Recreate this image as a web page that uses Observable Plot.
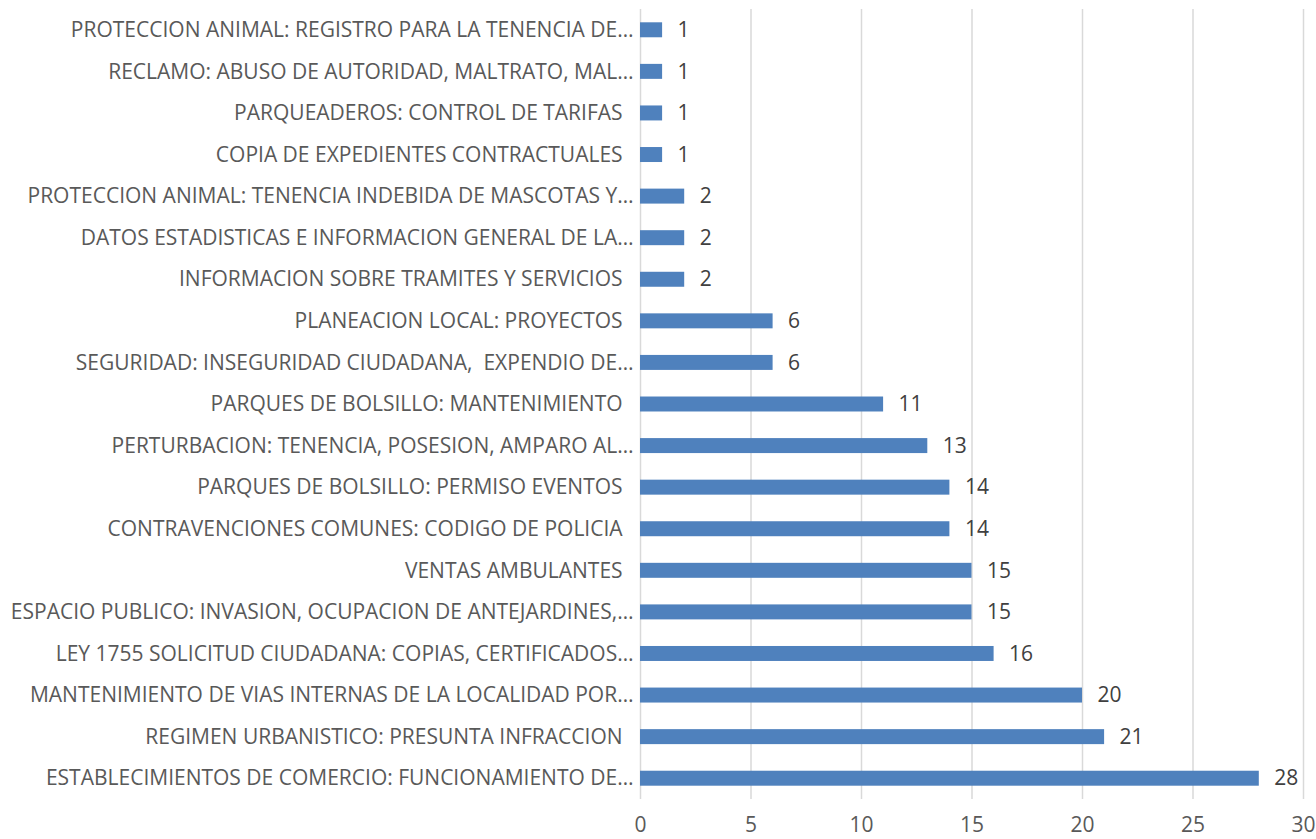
<!DOCTYPE html>
<html><head><meta charset="utf-8">
<script src="https://cdn.jsdelivr.net/npm/d3@7"></script>
<script src="https://cdn.jsdelivr.net/npm/@observablehq/plot@0.6"></script>
<style>
body{margin:0;background:#fff;}
svg text{white-space:pre;}
</style></head>
<body><div id="chart"></div>
<script>
const categories = [
  "PROTECCION ANIMAL: REGISTRO PARA LA TENENCIA DE…",
  "RECLAMO: ABUSO DE AUTORIDAD, MALTRATO, MAL…",
  "PARQUEADEROS: CONTROL DE TARIFAS\u00a0\u00a0",
  "COPIA DE EXPEDIENTES CONTRACTUALES\u00a0\u00a0",
  "PROTECCION ANIMAL: TENENCIA INDEBIDA DE MASCOTAS Y…",
  "DATOS ESTADISTICAS E INFORMACION GENERAL DE LA…",
  "INFORMACION SOBRE TRAMITES Y SERVICIOS\u00a0\u00a0",
  "PLANEACION LOCAL: PROYECTOS\u00a0\u00a0",
  "SEGURIDAD: INSEGURIDAD CIUDADANA,  EXPENDIO DE…",
  "PARQUES DE BOLSILLO: MANTENIMIENTO\u00a0\u00a0",
  "PERTURBACION: TENENCIA, POSESION, AMPARO AL…",
  "PARQUES DE BOLSILLO: PERMISO EVENTOS\u00a0\u00a0",
  "CONTRAVENCIONES COMUNES: CODIGO DE POLICIA\u00a0\u00a0",
  "VENTAS AMBULANTES\u00a0\u00a0",
  "ESPACIO PUBLICO: INVASION, OCUPACION DE ANTEJARDINES,…",
  "LEY 1755 SOLICITUD CIUDADANA: COPIAS, CERTIFICADOS…",
  "MANTENIMIENTO DE VIAS INTERNAS DE LA LOCALIDAD POR…",
  "REGIMEN URBANISTICO: PRESUNTA INFRACCION\u00a0\u00a0",
  "ESTABLECIMIENTOS DE COMERCIO: FUNCIONAMIENTO DE…"
];
const values = [1,1,1,1,2,2,2,6,6,11,13,14,14,15,15,16,20,21,28];
const xTicks = [0,5,10,15,20,25,30];

const data = categories.map((c,i)=>({cat:c, v:values[i]}));

const chart = Plot.plot({
  width: 1316,
  height: 839,
  marginLeft: 640,
  marginRight: 13,
  marginTop: 9,
  marginBottom: 40,
  style: {fontFamily: "'Open Sans', sans-serif", fontSize: "21px", color: "#595959", background: "#fff"},
  x: {domain: [0,30], ticks: xTicks, label: null},
  y: {domain: categories, padding: 0, round: false, label: null},
  marks: [
    Plot.gridX(xTicks, {stroke: "#d9d9d9", strokeOpacity: 1, strokeWidth: 1.5}),
    Plot.barX(data, {x: "v", y: "cat", fill: "#4f81bd", insetTop: 13.3, insetBottom: 13.3}),
    Plot.text(data, {x: "v", y: "cat", text: d => String(d.v), textAnchor: "start", dx: 15, fill: "#404040", fontSize: 21}),
    Plot.axisY({tickSize: 0, tickPadding: 7, fontSize: 21, fill: "#595959", label: null}),
    Plot.axisX(xTicks, {tickSize: 0, tickPadding: 18, fontSize: 21, fill: "#595959", anchor: "bottom", label: null})
  ]
});
document.getElementById("chart").appendChild(chart);
</script></body></html>
